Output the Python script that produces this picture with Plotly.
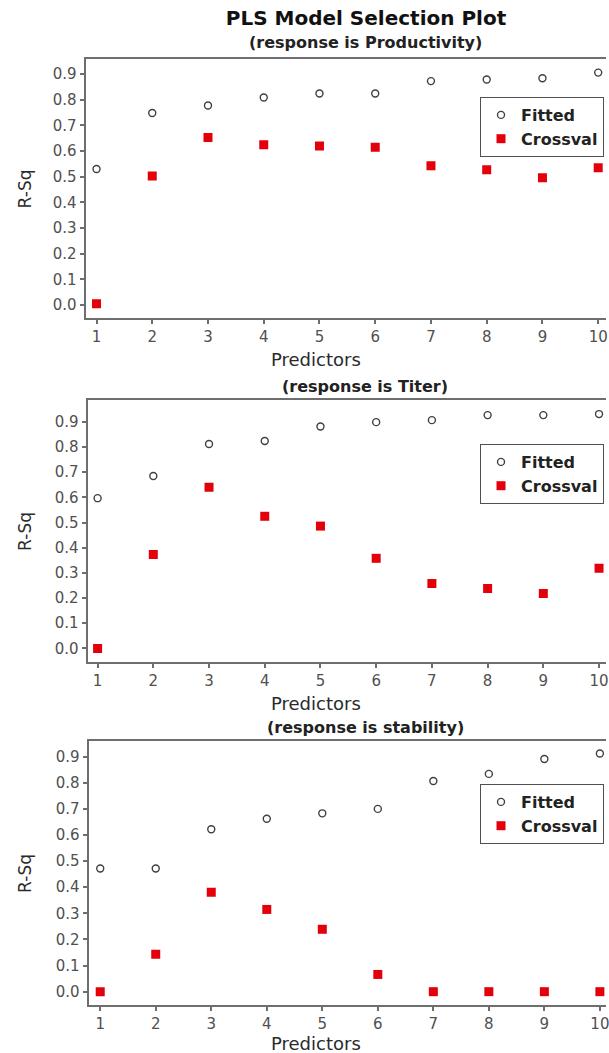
import plotly.graph_objects as go

predictors = [1, 2, 3, 4, 5, 6, 7, 8, 9, 10]
y_ticks = [0.0, 0.1, 0.2, 0.3, 0.4, 0.5, 0.6, 0.7, 0.8, 0.9]

responses = ["Productivity", "Titer", "stability"]

fitted_productivity = [0.53, 0.748, 0.777, 0.808, 0.824, 0.824, 0.872, 0.878, 0.883, 0.905]
crossval_productivity = [0.005, 0.503, 0.652, 0.624, 0.619, 0.615, 0.543, 0.527, 0.496, 0.535]

fitted_titer = [0.597, 0.685, 0.812, 0.824, 0.882, 0.899, 0.907, 0.927, 0.927, 0.931]
crossval_titer = [0.0, 0.373, 0.640, 0.525, 0.486, 0.358, 0.258, 0.238, 0.218, 0.318]

fitted_stability = [0.472, 0.472, 0.622, 0.662, 0.683, 0.700, 0.807, 0.834, 0.891, 0.912]
crossval_stability = [0.0, 0.143, 0.381, 0.315, 0.239, 0.066, 0.0, 0.0, 0.0, 0.0]

W, H = 609, 1053
FONT = "DejaVu Sans"
AXIS_COLOR = "#6e6e6e"
TICK_FONT_COLOR = "#505050"
RED = "#e3000b"

# per panel layout (pixels measured from the top / left of the picture)
panels = [
    dict(fit=fitted_productivity, cv=crossval_productivity, left=86, top=59, bottom=318,
         xr=[0.804, 10.14], yr=[-0.05, 0.958], sub_y=42, pred_y=359, leg_y=97),
    dict(fit=fitted_titer, cv=crossval_titer, left=88, top=400, bottom=662,
         xr=[0.82, 10.125], yr=[-0.054, 0.987], sub_y=386, pred_y=703, leg_y=444),
    dict(fit=fitted_stability, cv=crossval_stability, left=89, top=741, bottom=1005,
         xr=[0.79, 10.11], yr=[-0.051, 0.96], sub_y=727, pred_y=1043, leg_y=784),
]

fig = go.Figure()
annotations = []
for i, p in enumerate(panels):
    n = "" if i == 0 else str(i + 1)
    xa, ya = "x" + n, "y" + n
    lg = "legend" + n
    fig.add_trace(go.Scatter(
        x=predictors, y=p["fit"], mode="markers", name="Fitted",
        xaxis=xa, yaxis=ya, legend=lg,
        marker=dict(symbol="circle-open", size=7, color="#404040", line=dict(width=1.4, color="#404040")),
    ))
    fig.add_trace(go.Scatter(
        x=predictors, y=p["cv"], mode="markers", name="Crossval",
        xaxis=xa, yaxis=ya, legend=lg,
        marker=dict(symbol="square", size=9, color=RED),
    ))
    dom_x = [p["left"] / W, 1.0]
    dom_y = [1 - p["bottom"] / H, 1 - p["top"] / H]
    fig.layout["xaxis" + n] = dict(
        domain=dom_x, anchor=ya, range=p["xr"], tickmode="array", tickvals=predictors,
        showline=True, linecolor=AXIS_COLOR, linewidth=2, mirror=True,
        ticks="outside", ticklen=4, tickcolor=AXIS_COLOR, tickwidth=1.5,
        showgrid=False, zeroline=False, ticklabeloverflow="allow",
        tickfont=dict(family=FONT, size=15, color=TICK_FONT_COLOR),
    )
    fig.layout["yaxis" + n] = dict(
        domain=dom_y, anchor=xa, range=p["yr"], tickmode="array", tickvals=y_ticks,
        tickformat=".1f",
        showline=True, linecolor=AXIS_COLOR, linewidth=2, mirror=False,
        ticks="outside", ticklen=4, tickcolor=AXIS_COLOR, tickwidth=1.5,
        showgrid=False, zeroline=False,
        tickfont=dict(family=FONT, size=15, color=TICK_FONT_COLOR),
    )
    fig.layout[lg] = dict(
        x=607 / W, y=1 - p["leg_y"] / H, xanchor="right", yanchor="top",
        xref="paper", yref="paper",
        bgcolor="white", bordercolor="#505050", borderwidth=1,
        font=dict(family=FONT, size=16, color="#222222", weight="bold"),
        tracegroupgap=0, itemwidth=30,
    )
    annotations.append(dict(
        text="<b>(response is %s)</b>" % responses[i], x=367 / W, y=1 - p["sub_y"] / H,
        xref="paper", yref="paper", showarrow=False, xanchor="center", yanchor="middle",
        font=dict(family=FONT, size=16, color="#222222"),
    ))
    annotations.append(dict(
        text="Predictors", x=318 / W, y=1 - p["pred_y"] / H,
        xref="paper", yref="paper", showarrow=False, xanchor="center", yanchor="middle",
        font=dict(family=FONT, size=18, color="#2a2a2a"),
    ))
    annotations.append(dict(
        text="R-Sq", x=25 / W, y=1 - (p["top"] + p["bottom"]) / 2 / H,
        xref="paper", yref="paper", showarrow=False, xanchor="center", yanchor="middle",
        textangle=-90, font=dict(family=FONT, size=17, color="#2a2a2a"),
    ))

fig.update_layout(
    width=W, height=H, margin=dict(l=0, r=0, t=0, b=0),
    paper_bgcolor="white", plot_bgcolor="white",
    title=dict(text="<b>PLS Model Selection Plot</b>", x=366 / W, y=1 - 18 / H,
               xanchor="center", yanchor="middle",
               font=dict(family=FONT, size=20, color="#111111")),
    annotations=annotations,
    showlegend=True,
)

fig.write_html("out.html")
